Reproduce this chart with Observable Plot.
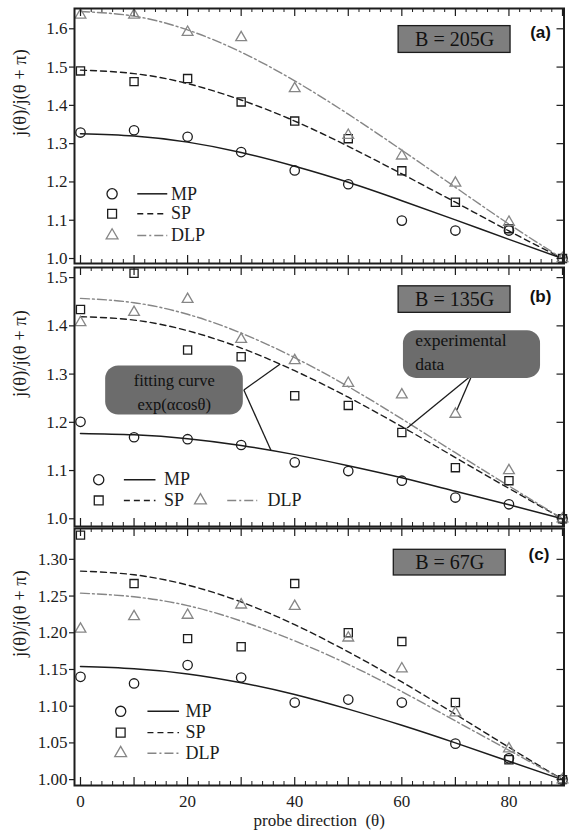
<!DOCTYPE html>
<html><head><meta charset="utf-8">
<script src="https://cdn.jsdelivr.net/npm/d3@7"></script>
<script src="https://cdn.jsdelivr.net/npm/@observablehq/plot@0.6"></script>
<style>
body{margin:0;background:#fff;}
#chart{width:577px;}
#chart svg{display:block;}
</style></head><body><div id="chart"></div>
<script>
// ---------- data ----------
const theta = [0, 10, 20, 30, 40, 50, 60, 70, 80, 90];
const seriesNames = ["MP", "SP", "DLP"];
const panelTags = ["(a)", "(b)", "(c)"];
const fieldLabels = ["B = 205G", "B = 135G", "B = 67G"];
const yLabel = "j(θ)/j(θ + π)";
const xLabel = "probe direction  (θ)";
const fitLabel = ["fitting curve", "exp(αcosθ)"];
const dataLabel = ["experimental", "data"];

// panel (a) B = 205G
const aMP  = [1.329, 1.335, 1.318, 1.278, 1.230, 1.194, 1.099, 1.073, 1.073, 1.000];
const aSP  = [1.490, 1.462, 1.470, 1.409, 1.359, 1.313, 1.229, 1.147, 1.078, 1.000];
const aDLP = [1.636, 1.636, 1.591, 1.577, 1.444, 1.322, 1.268, 1.197, 1.095, 1.000];
const aMPfit  = [1.326, 1.320, 1.304, 1.277, 1.241, 1.199, 1.151, 1.101, 1.050, 1.000];
const aSPfit  = [1.492, 1.483, 1.457, 1.414, 1.359, 1.293, 1.221, 1.147, 1.072, 1.000];
const aDLPfit = [1.645, 1.633, 1.597, 1.539, 1.464, 1.377, 1.283, 1.186, 1.090, 1.000];

// panel (b) B = 135G
const bMP  = [1.201, 1.169, 1.165, 1.153, 1.117, 1.099, 1.079, 1.044, 1.030, 1.000];
const bSP  = [1.434, 1.509, 1.350, 1.336, 1.255, 1.235, 1.179, 1.106, 1.079, 1.000];
const bDLP = [1.407, 1.428, 1.455, 1.372, 1.328, 1.281, 1.257, 1.217, 1.100, 1.000];
const bMPfit  = [1.177, 1.174, 1.166, 1.152, 1.133, 1.110, 1.085, 1.057, 1.029, 1.000];
const bSPfit  = [1.419, 1.412, 1.390, 1.354, 1.307, 1.252, 1.191, 1.127, 1.063, 1.000];
const bDLPfit = [1.457, 1.448, 1.424, 1.385, 1.334, 1.274, 1.207, 1.137, 1.068, 1.000];

// panel (c) B = 67G
const cMP  = [1.140, 1.131, 1.156, 1.139, 1.105, 1.109, 1.105, 1.049, 1.029, 1.000];
const cSP  = [1.333, 1.267, 1.192, 1.181, 1.267, 1.200, 1.188, 1.105, 1.027, 1.000];
const cDLP = [1.205, 1.222, 1.224, 1.238, 1.236, 1.193, 1.151, 1.091, 1.042, 1.000];
const cMPfit  = [1.154, 1.151, 1.144, 1.132, 1.116, 1.096, 1.074, 1.050, 1.025, 1.000];
const cSPfit  = [1.284, 1.279, 1.265, 1.242, 1.211, 1.174, 1.133, 1.089, 1.044, 1.000];
const cDLPfit = [1.254, 1.249, 1.237, 1.216, 1.189, 1.157, 1.120, 1.080, 1.040, 1.000];

// ticks
const aYTicks = [1.0, 1.1, 1.2, 1.3, 1.4, 1.5, 1.6];
const bYTicks = [1.0, 1.1, 1.2, 1.3, 1.4, 1.5];
const cYTicks = [1.00, 1.05, 1.10, 1.15, 1.20, 1.25, 1.30];
const xTickLabels = [0, 20, 40, 60, 80];
const xMajor = [0, 10, 20, 30, 40, 50, 60, 70, 80, 90];
const xMinor = [2,4,6,8,12,14,16,18,22,24,26,28,32,34,36,38,42,44,46,48,52,54,56,58,62,64,66,68,72,74,76,78,82,84,86,88];

// ---------- drawing ----------
const SERIF = "'Liberation Serif', 'Times New Roman', serif";
const SANS = "'Liberation Sans', Arial, sans-serif";
const INK = "#1c1c1c";
const GRAY = "#868686";
const W = 577, ML = 74, MR = 13.5;
const XDOM = [-1.12, 90.28];
const styles = {
  MP:  {symbol: "circle",   r: 4.7, stroke: INK,  dash: null,      sw: 1.5},
  SP:  {symbol: "square",   r: 4.6, stroke: INK,  dash: "6,4",     sw: 1.4},
  DLP: {symbol: "triangle", r: 4.0, stroke: GRAY, dash: "9,3,2,3", sw: 1.4}
};

function legendMarks(items) {
  const m = [];
  for (const it of items) {
    const s = styles[it.name];
    m.push(Plot.dot([it], {x: "mx", y: "y", symbol: s.symbol, r: s.r + 0.4, stroke: s.stroke, fill: "none", strokeWidth: 1.3}));
    m.push(Plot.link([it], {x1: "l1", x2: "l2", y1: "y", y2: "y", stroke: s.stroke, strokeWidth: s.sw, strokeDasharray: s.dash}));
    m.push(Plot.text([it], {x: "tx", y: "y", text: "name", textAnchor: "start", fontSize: 18, fontFamily: SERIF, fill: INK}));
  }
  return m;
}

function panel(cfg) {
  const ph = cfg.height - cfg.mt - cfg.mb;
  const pw = W - ML - MR;
  const marks = [];
  seriesNames.forEach((n, i) => {
    const s = styles[n];
    const f = cfg.fit[i];
    marks.push(Plot.line(f, {x: theta, y: f, curve: "natural", stroke: s.stroke, strokeWidth: s.sw, strokeDasharray: s.dash}));
  });
  seriesNames.forEach((n, i) => {
    const s = styles[n];
    const v = cfg.pts[i];
    marks.push(Plot.dot(v, {x: theta, y: v, symbol: s.symbol, r: s.r, stroke: s.stroke, fill: "none", strokeWidth: 1.3}));
  });
  marks.push(...legendMarks(cfg.legend));
  marks.push(Plot.rect([cfg.box], {x1: "x1", x2: "x2", y1: "y1", y2: "y2", fill: "#7e7e7e", stroke: INK, strokeWidth: 1.3}));
  marks.push(Plot.text([cfg.box], {x: d => (d.x1 + d.x2) / 2, y: d => (d.y1 + d.y2) / 2, text: () => cfg.field, fontSize: 20, fontFamily: SERIF, fill: "#111"}));
  marks.push(Plot.text([cfg.tag], {x: "x", y: "y", text: () => cfg.tagText, fontSize: 17, fontWeight: "bold", fontFamily: SANS, fill: "#111"}));
  if (cfg.extra) marks.push(...cfg.extra);
  marks.push(Plot.frame({stroke: INK, strokeWidth: 2}));
  marks.push(Plot.tickX(xMajor, {x: d => d, insetTop: ph - 8, stroke: INK, strokeWidth: 1.2}));
  marks.push(Plot.tickX(xMajor, {x: d => d, insetBottom: ph - 8, stroke: INK, strokeWidth: 1.2}));
  marks.push(Plot.tickX(xMinor, {x: d => d, insetTop: ph - 4, stroke: INK, strokeWidth: 1}));
  marks.push(Plot.tickX(xMinor, {x: d => d, insetBottom: ph - 4, stroke: INK, strokeWidth: 1}));
  marks.push(Plot.tickY(cfg.yTicks, {y: d => d, insetLeft: pw - 7, stroke: INK, strokeWidth: 1.2}));
  marks.push(Plot.axisY(cfg.yTicks, {anchor: "left", tickSize: 5, tickPadding: 2, tickFormat: d3.format(cfg.fmt), fontSize: 17, fontFamily: SERIF, label: null, stroke: INK, strokeWidth: 1.2}));
  marks.push(Plot.text([yLabel], {frameAnchor: "left", dx: -54, rotate: -90, text: d => d, fontSize: 18.5, fontFamily: SERIF, fill: INK}));
  if (cfg.xAxis) {
    marks.push(Plot.axisX(xTickLabels, {anchor: "bottom", tickSize: 0, tickPadding: 9, fontSize: 17, fontFamily: SERIF, label: null}));
    marks.push(Plot.text([xLabel], {frameAnchor: "bottom", dy: 40, text: d => d, fontSize: 17, fontFamily: SERIF, fill: INK}));
  }
  return Plot.plot({
    width: W, height: cfg.height,
    marginLeft: ML, marginRight: MR, marginTop: cfg.mt, marginBottom: cfg.mb,
    style: {fontFamily: SERIF, fontSize: "15px", color: INK, background: "#fff", overflow: "visible"},
    x: {domain: XDOM, axis: cfg.xAxis ? undefined : null},
    y: {domain: cfg.yDomain},
    marks
  });
}

const root = document.getElementById("chart");

// (a)
root.append(panel({
  height: 265, mt: 8, mb: 2, yDomain: [0.987, 1.653], yTicks: aYTicks, fmt: ".1f",
  pts: [aMP, aSP, aDLP], fit: [aMPfit, aSPfit, aDLPfit],
  legend: [
    {name: "MP",  mx: 5.9, l1: 10.6, l2: 16.2, tx: 16.9, y: 1.169},
    {name: "SP",  mx: 5.9, l1: 10.6, l2: 16.2, tx: 16.9, y: 1.117},
    {name: "DLP", mx: 5.9, l1: 10.6, l2: 16.2, tx: 16.9, y: 1.060}
  ],
  box: {x1: 59.4, x2: 80.3, y1: 1.537, y2: 1.607}, field: fieldLabels[0],
  tag: {x: 85.9, y: 1.591}, tagText: panelTags[0]
}));

// (b)
const bExtra = [
  Plot.link([{x1: 30.5, y1: 1.267, x2: 37.3, y2: 1.321}, {x1: 30.5, y1: 1.267, x2: 35.6, y2: 1.141}],
    {x1: "x1", y1: "y1", x2: "x2", y2: "y2", stroke: INK, strokeWidth: 1.3}),
  Plot.rect([{x1: 4.7, x2: 30.4, y1: 1.215, y2: 1.317}], {x1: "x1", x2: "x2", y1: "y1", y2: "y2", fill: "#6c6c6c", rx: 13}),
  Plot.text(fitLabel, {x: 17.5, y: (d, i) => [1.287, 1.237][i], text: d => d, fontSize: 16.5, fontFamily: SERIF, fill: "#111"}),
  Plot.link([{x1: 73.1, y1: 1.298, x2: 61.0, y2: 1.188}, {x1: 73.1, y1: 1.298, x2: 70.3, y2: 1.226}],
    {x1: "x1", y1: "y1", x2: "x2", y2: "y2", stroke: INK, strokeWidth: 1.3}),
  Plot.rect([{x1: 60.3, x2: 85.9, y1: 1.291, y2: 1.390}], {x1: "x1", x2: "x2", y1: "y1", y2: "y2", fill: "#6c6c6c", rx: 13}),
  Plot.text(dataLabel, {x: 62.5, y: (d, i) => [1.369, 1.320][i], text: d => d, textAnchor: "start", fontSize: 17.5, fontFamily: SERIF, fill: "#111"})
];
root.append(panel({
  height: 262, mt: 2, mb: 1, yDomain: [0.984, 1.521], yTicks: bYTicks, fmt: ".1f",
  pts: [bMP, bSP, bDLP], fit: [bMPfit, bSPfit, bDLPfit],
  legend: [
    {name: "MP",  mx: 3.4,  l1: 8.1,  l2: 14.0, tx: 15.6, y: 1.081},
    {name: "SP",  mx: 3.4,  l1: 8.1,  l2: 14.0, tx: 15.6, y: 1.038},
    {name: "DLP", mx: 22.4, l1: 27.4, l2: 33.0, tx: 34.9, y: 1.038}
  ],
  box: {x1: 59.4, x2: 80.3, y1: 1.427, y2: 1.482}, field: fieldLabels[1],
  tag: {x: 85.9, y: 1.460}, tagText: panelTags[1],
  extra: bExtra
}));

// (c)
root.append(panel({
  height: 308, mt: 1, mb: 50, yDomain: [0.992, 1.342], yTicks: cYTicks, fmt: ".2f",
  pts: [cMP, cSP, cDLP], fit: [cMPfit, cSPfit, cDLPfit],
  legend: [
    {name: "MP",  mx: 7.5, l1: 12.5, l2: 18.4, tx: 19.6, y: 1.093},
    {name: "SP",  mx: 7.5, l1: 12.5, l2: 18.4, tx: 19.6, y: 1.064},
    {name: "DLP", mx: 7.5, l1: 12.5, l2: 18.4, tx: 19.6, y: 1.036}
  ],
  box: {x1: 58.5, x2: 79.4, y1: 1.278, y2: 1.313}, field: fieldLabels[2],
  tag: {x: 85.6, y: 1.307}, tagText: panelTags[2],
  xAxis: true
}));
</script></body></html>
